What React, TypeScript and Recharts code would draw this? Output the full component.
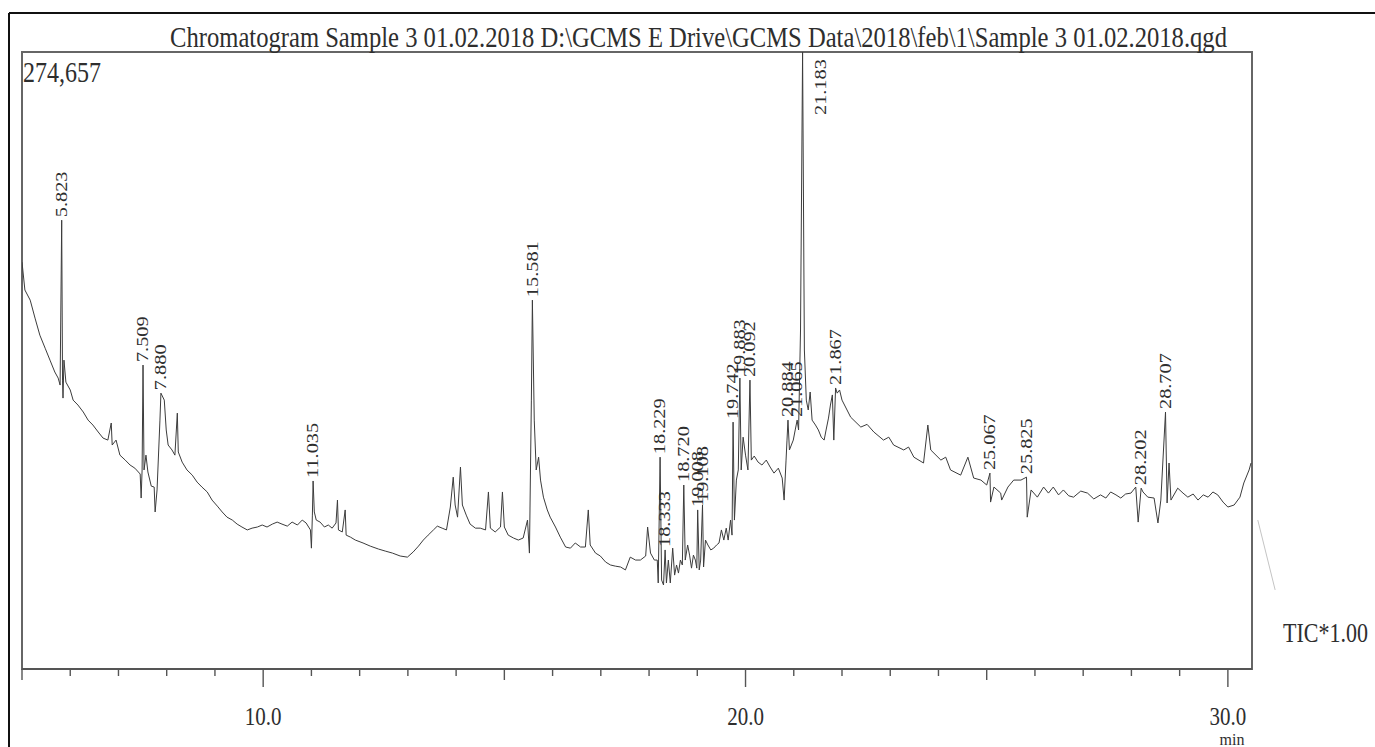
import React from 'react';
import { ComposedChart, Line, Scatter, XAxis, YAxis, ReferenceArea, ReferenceLine } from 'recharts';

const MAX_COUNTS = 274657;
const X_DOMAIN: [number, number] = [5, 30.5];
const xTicks = [5, 6, 7, 8, 9, 10, 11, 12, 13, 14, 15, 16, 17, 18, 19, 20, 21, 22, 23, 24, 25, 26, 27, 28, 29, 30];

const TITLE = 'Chromatogram Sample 3 01.02.2018 D:\\GCMS E Drive\\GCMS Data\\2018\\feb\\1\\Sample 3 01.02.2018.qgd';
const MAX_LABEL = '274,657';
const TIC_LABEL = 'TIC*1.00';
const X_UNIT = 'min';

// [retention time (min), intensity (counts)]
const traceEarly: [number, number][] = [
  [5.00, 181100], [5.06, 168700], [5.17, 164200], [5.27, 156200], [5.37, 148600], [5.48, 142800], [5.58, 137500],
  [5.68, 132200], [5.75, 129500], [5.79, 126400], [5.823, 199800], [5.84, 128600], [5.85, 120600], [5.87, 137500],
  [5.91, 127700], [6.00, 124200], [6.06, 119700], [6.16, 117500], [6.27, 114400], [6.37, 110800], [6.47, 108600],
  [6.58, 105500], [6.68, 102800], [6.78, 101900], [6.85, 109500], [6.87, 99700], [6.95, 101900], [7.03, 95200],
  [7.14, 93000], [7.24, 90800], [7.34, 89400], [7.45, 86800], [7.47, 76100], [7.49, 88600], [7.509, 135300],
  [7.53, 88600], [7.57, 95200], [7.61, 87700], [7.68, 81400], [7.74, 81000], [7.76, 69900], [7.80, 79700],
  [7.86, 110800], [7.88, 122800], [7.95, 119700], [7.99, 106400], [8.03, 99700], [8.11, 97500], [8.17, 95200],
  [8.22, 113900], [8.24, 96600], [8.32, 92100], [8.42, 88600], [8.53, 86300], [8.63, 83200], [8.73, 81000],
  [8.84, 78800], [8.94, 75200], [9.05, 72500], [9.15, 69900], [9.25, 67600], [9.36, 66300], [9.46, 64500],
  [9.56, 63200], [9.67, 61900], [9.77, 62700], [9.88, 63200], [9.98, 64100], [10.08, 63200], [10.19, 64500],
  [10.29, 65400], [10.39, 64500], [10.50, 63600], [10.60, 65400], [10.71, 64100], [10.81, 66300], [10.89, 65000],
  [10.98, 61900], [11.00, 53800], [11.02, 68500], [11.035, 83700], [11.06, 69900], [11.10, 66300], [11.18, 65400],
  [11.27, 63200], [11.35, 64100], [11.43, 62700], [11.51, 65000], [11.54, 75200], [11.56, 61900], [11.64, 61000],
  [11.70, 70800], [11.72, 59600], [11.81, 58700],
];

const traceMiddle: [number, number][] = [
  [11.91, 57400], [12.07, 56100], [12.22, 54700], [12.39, 53400], [12.53, 52500], [12.68, 51600], [12.84, 50300],
  [12.99, 49800], [13.11, 52100], [13.22, 54700], [13.32, 57400], [13.42, 59600], [13.53, 61900], [13.61, 63600],
  [13.71, 62700], [13.80, 61900], [13.88, 72100], [13.94, 85400], [13.98, 73000], [14.03, 67600], [14.09, 89900],
  [14.13, 73000], [14.21, 68500], [14.29, 64500], [14.40, 62700], [14.50, 62700], [14.61, 61900], [14.67, 78800],
  [14.71, 62700], [14.81, 61000], [14.92, 63200], [14.96, 78800], [15.00, 63200], [15.08, 59600], [15.19, 58300],
  [15.29, 57400], [15.39, 58300], [15.48, 66300], [15.52, 51600], [15.56, 119700], [15.581, 164200], [15.62, 110800],
  [15.66, 88600], [15.71, 94300], [15.75, 84100], [15.81, 76500], [15.89, 70800], [15.95, 67600], [16.06, 63200],
  [16.16, 58700], [16.27, 54300], [16.37, 53800], [16.47, 56100], [16.58, 54300], [16.68, 54300], [16.74, 70800],
  [16.78, 55200], [16.89, 51600], [16.99, 50300], [17.10, 47600], [17.20, 46300], [17.30, 45800], [17.41, 45400],
  [17.51, 44100], [17.61, 49800], [17.72, 48500], [17.82, 48500], [17.93, 50300], [17.97, 63200], [18.03, 51600],
  [18.11, 48500],
];

const traceCluster: [number, number][] = [
  [18.17, 48500], [18.19, 38300], [18.229, 94300], [18.26, 39600], [18.30, 37400], [18.333, 53000], [18.36, 38300],
  [18.40, 48500], [18.44, 38300], [18.49, 53800], [18.53, 41800], [18.57, 46300], [18.61, 42700], [18.65, 48500],
  [18.69, 46300], [18.72, 81900], [18.75, 48500], [18.80, 55200], [18.84, 50700], [18.88, 44900], [18.92, 50700],
  [18.96, 48500], [18.99, 44900], [19.008, 70800], [19.04, 44100], [19.07, 48500], [19.108, 73000], [19.13, 45400],
  [19.17, 57400], [19.22, 55200], [19.28, 53000], [19.34, 53800], [19.40, 55200], [19.45, 56100], [19.50, 61900],
  [19.55, 57400], [19.60, 62700], [19.64, 57400], [19.69, 66300], [19.72, 59600], [19.742, 109900], [19.77, 66300],
  [19.81, 84100], [19.85, 88600], [19.883, 129500], [19.91, 88600], [19.95, 103200], [20.00, 95200], [20.05, 88600],
  [20.092, 128600], [20.12, 93000], [20.18, 94800], [20.26, 92100], [20.34, 90800], [20.43, 93000], [20.51, 89900],
  [20.59, 87200], [20.68, 89400], [20.76, 85000], [20.80, 75200], [20.84, 93000], [20.86, 101900], [20.88, 110800],
  [20.91, 97500], [20.95, 99700], [20.99, 101900], [21.03, 106400], [21.07, 110800], [21.10, 106400], [21.14, 150900],
  [21.183, 274657], [21.22, 142000], [21.26, 119700], [21.30, 115300], [21.34, 123300], [21.38, 110800],
  [21.45, 108600], [21.51, 106400], [21.57, 103200], [21.63, 101900], [21.67, 106400], [21.72, 111700],
  [21.76, 117500], [21.80, 122000], [21.83, 101900], [21.867, 125100], [21.90, 122800], [21.95, 124200],
  [22.00, 119700],
];

const traceLate: [number, number][] = [
  [22.18, 112100], [22.39, 107700], [22.52, 108900], [22.66, 105500], [22.86, 101900], [22.97, 103200],
  [23.07, 99700], [23.28, 97500], [23.38, 98800], [23.49, 94300], [23.69, 91700], [23.78, 108600], [23.84, 97500],
  [24.05, 93000], [24.15, 94300], [24.25, 88600], [24.46, 86300], [24.61, 94300], [24.73, 85000], [24.88, 84100],
  [25.00, 81900], [25.067, 87200], [25.08, 74300], [25.15, 81000], [25.29, 78300], [25.31, 75200], [25.44, 81000],
  [25.56, 84100], [25.71, 84100], [25.825, 85400], [25.84, 67600], [25.92, 79700], [26.05, 76500], [26.18, 81000],
  [26.28, 78300], [26.38, 81000], [26.49, 77500], [26.59, 79700], [26.70, 77100], [26.80, 76500], [26.95, 79200],
  [27.09, 78300], [27.22, 75700], [27.36, 77500], [27.47, 76100], [27.57, 78800], [27.68, 77500], [27.78, 76100],
  [27.88, 77900], [27.99, 78300], [28.09, 81000], [28.14, 65400], [28.202, 80500], [28.24, 78800], [28.34, 76500],
  [28.47, 76100], [28.55, 65000], [28.61, 75200], [28.707, 114400], [28.74, 73900], [28.78, 91700], [28.82, 75200],
  [28.96, 80500], [29.07, 78300], [29.17, 76500], [29.28, 77900], [29.38, 75200], [29.49, 77500], [29.59, 76500],
  [29.69, 78800], [29.79, 77500], [29.90, 74300], [30.00, 72100], [30.13, 73000], [30.25, 76500], [30.33, 82800],
  [30.44, 88600], [30.48, 91700],
];

// trace continuing faintly beyond the right frame
const tailStart = { t: 30.62, v: 66300 };
const tailEnd = { t: 30.98, v: 35200 };

const peakTimes = [5.823, 7.509, 7.88, 11.035, 15.581, 18.229, 18.333, 18.72, 19.008, 19.108, 19.742, 19.883, 20.092,
  20.88, 21.07, 21.183, 21.867, 25.067, 25.825, 28.202, 28.707];
const peakLabels = ['5.823', '7.509', '7.880', '11.035', '15.581', '18.229', '18.333', '18.720', '19.008', '19.108',
  '19.742', '19.883', '20.092', '20.884', '21.065', '21.183', '21.867', '25.067', '25.825', '28.202', '28.707'];

const traceData = [...traceEarly, ...traceMiddle, ...traceCluster, ...traceLate].map(([t, v]) => ({ t, v }));
const countAt = new Map(traceData.map((d) => [d.t, d.v]));
const peakData = peakTimes.map((t, i) => ({ t, v: countAt.get(t) ?? 0, label: peakLabels[i] }));

const FONT = '"Liberation Serif", "Times New Roman", serif';
const INK = '#2e2e2e';
const STRETCH = 1.27;

const AxisTick = (props: any) => {
  const { x, y, payload } = props;
  const val = payload.value as number;
  const major = val % 10 === 0;
  const mid = val % 5 === 0;
  const len = major ? 18 : mid ? 11 : 7;
  return (
    <g>
      <line x1={x} x2={x} y1={y} y2={y + len} stroke="#555" strokeWidth={1.4} />
      {major && (
        <text
          transform={`translate(${x},${y + 56}) scale(1,1.2)`}
          textAnchor="middle"
          fontSize={21}
          fontFamily={FONT}
          fill={INK}
        >
          {val.toFixed(1)}
        </text>
      )}
    </g>
  );
};

const PeakLabel = (props: any) => {
  const { cx, cy, payload } = props;
  if (cx == null || cy == null) return <g />;
  const clipped = payload.v >= MAX_COUNTS;
  const x = clipped ? cx + 18 : cx;
  const y = clipped ? cy + 63 : cy - 3;
  return (
    <text
      transform={`translate(${x},${y}) scale(1,${STRETCH}) rotate(-90)`}
      fontSize={16}
      fontFamily={FONT}
      dominantBaseline="central"
      fill={INK}
    >
      {payload.label}
    </text>
  );
};

export default function App() {
  return (
    <div style={{ position: 'absolute', left: 0, top: 0, width: 1375, height: 747, background: '#fff' }}>
      <ComposedChart
        width={1375}
        height={747}
        data={traceData}
        margin={{ top: 52, right: 123, left: 22, bottom: 0 }}
      >
        <XAxis
          dataKey="t"
          type="number"
          domain={X_DOMAIN}
          allowDataOverflow
          ticks={xTicks}
          interval={0}
          tick={<AxisTick />}
          tickLine={false}
          tickSize={0}
          tickMargin={0}
          height={78}
          axisLine={{ stroke: '#555', strokeWidth: 2 }}
        />
        <YAxis type="number" domain={[0, MAX_COUNTS]} allowDataOverflow hide />
        <ReferenceArea
          x1={X_DOMAIN[0]}
          x2={X_DOMAIN[1]}
          y1={0}
          y2={MAX_COUNTS}
          fill="none"
          stroke="#666"
          strokeWidth={2}
          ifOverflow="visible"
        />
        <ReferenceLine
          segment={[{ x: tailStart.t, y: tailStart.v }, { x: tailEnd.t, y: tailEnd.v }]}
          stroke="#c4c4c4"
          strokeWidth={1}
          ifOverflow="visible"
        />
        <Line
          data={traceData}
          dataKey="v"
          type="linear"
          stroke="#3c3c3c"
          strokeWidth={1}
          dot={false}
          activeDot={false}
          isAnimationActive={false}
        />
        <Scatter data={peakData} dataKey="v" shape={PeakLabel} isAnimationActive={false} />
      </ComposedChart>
      <svg
        width={1375}
        height={747}
        style={{ position: 'absolute', left: 0, top: 0, pointerEvents: 'none' }}
      >
        <line x1={9} y1={13} x2={1375} y2={13} stroke="#111" strokeWidth={2} />
        <line x1={9} y1={13} x2={9} y2={747} stroke="#111" strokeWidth={2} />
        <text
          transform={`translate(170,47) scale(1,${STRETCH})`}
          fontSize={24}
          fontFamily={FONT}
          fill={INK}
          textLength={1057}
          lengthAdjust="spacingAndGlyphs"
        >
          {TITLE}
        </text>
        <text transform={`translate(23,82) scale(1,${STRETCH})`} fontSize={24} fontFamily={FONT} fill={INK}>
          {MAX_LABEL}
        </text>
        <text transform={`translate(1283,642) scale(1,${STRETCH})`} fontSize={22} fontFamily={FONT} fill={INK}>
          {TIC_LABEL}
        </text>
        <text
          x={1232}
          y={745}
          textAnchor="middle"
          fontSize={16}
          fontFamily={FONT}
          fill={INK}
        >
          {X_UNIT}
        </text>
      </svg>
    </div>
  );
}
